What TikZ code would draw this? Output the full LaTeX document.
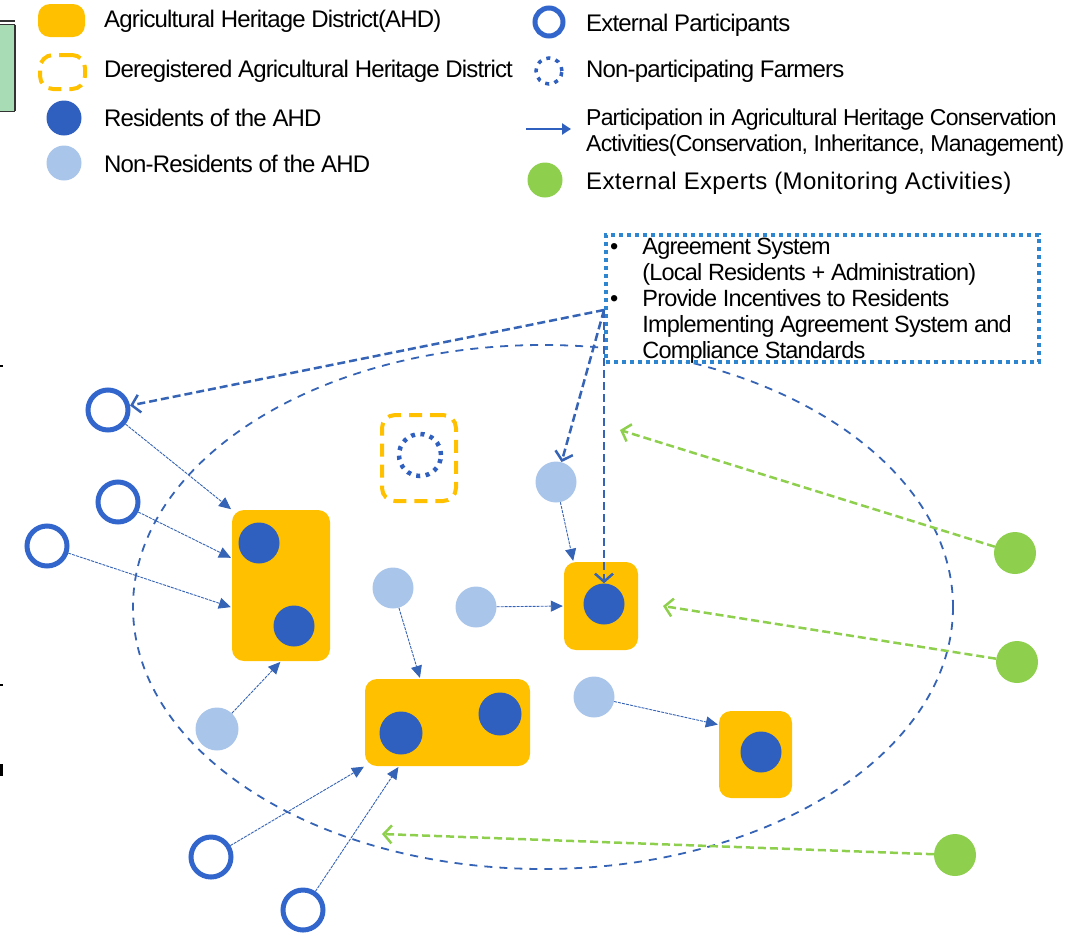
\documentclass[tikz,border=0pt]{standalone}
\usepackage{fontspec}
\setmainfont{Liberation Sans}
\newfontfamily\tightf{Liberation Sans}[LetterSpace=-3.5]
\newfontfamily\widef{Liberation Sans}[LetterSpace=1.5]
\usetikzlibrary{arrows.meta}
\definecolor{ahdy}{HTML}{FFC000}
\definecolor{resb}{HTML}{2F5FBF}
\definecolor{ringb}{HTML}{3366CC}
\definecolor{nonb}{HTML}{A9C5EA}
\definecolor{expg}{HTML}{8ED04E}
\definecolor{boxb}{HTML}{2E86D0}
\definecolor{dashb}{HTML}{3563B5}
\definecolor{fragg}{HTML}{A8DCB5}
\tikzset{
  ahd/.style={fill=ahdy, rounded corners=12pt, inner sep=0pt},
  dereg/.style={draw=ahdy, line width=4pt, dash pattern=on 13pt off 8pt, rounded corners=13pt, inner sep=0pt},
  resdot/.style={circle, fill=resb, minimum size=41pt, inner sep=0pt},
  nondot/.style={circle, fill=nonb, minimum size=41pt, inner sep=0pt},
  extring/.style={circle, draw=ringb, line width=5pt, minimum size=40pt, inner sep=0pt},
  expdot/.style={circle, fill=expg, minimum size=42pt, inner sep=0pt},
  nonpart/.style={circle, draw=resb, line width=4.5pt, dash pattern=on 4pt off 5.5pt, inner sep=0pt},
  part/.style={draw=dashb, line width=0.9pt, dash pattern=on 3pt off 1pt, -{Triangle[length=12pt,width=11pt]}, shorten >=1pt},
  agree/.style={draw=dashb, line width=2.5pt, dash pattern=on 8pt off 4pt, -{Straight Barb[length=8pt,width=18pt,line width=2.5pt]}},
  monit/.style={draw=expg, line width=2.5pt, dash pattern=on 8pt off 4pt, -{Straight Barb[length=8pt,width=18pt,line width=2.5pt]}},
  legtxt/.style={anchor=west, inner sep=0pt, font=\tightf\fontsize{24}{26}\selectfont},
}
\begin{document}
\begin{tikzpicture}[x=1pt,y=-1pt]
\useasboundingbox (0,0) rectangle (1081,935);
% fragments at the left edge
\fill[fragg] (0,24) rectangle (15,111);
\draw[line width=1.2pt, black!80] (0,21) -- (15,21) (0,24.5) -- (15,24.5) (15,24.5) -- (15,111) (0,111.5) -- (15,111.5);
\draw[line width=1.5pt] (0,366) -- (3,366) (0,685) -- (3,685);
\draw[line width=3pt] (1.5,764) -- (1.5,776);

% legend
\node[ahd, minimum width=47pt, minimum height=33pt] (LA) at (61.5,20.5) {};
\node[legtxt] (TA) at (104,21) {Agricultural Heritage District(AHD)};
\node[dereg, minimum width=45pt, minimum height=34pt] (LB) at (62.5,72) {};
\node[legtxt] (TB) at (104,71) {Deregistered Agricultural Heritage District};
\node[resdot, minimum size=35pt] (LC) at (64,118) {};
\node[legtxt] (TC) at (104,118) {Residents of the AHD};
\node[nondot, minimum size=35pt] (LD) at (64,163) {};
\node[legtxt] (TD) at (104,164) {Non-Residents of the AHD};

\node[extring, minimum size=28pt] (LE) at (549,22) {};
\node[legtxt] (TE) at (586,25) {External Participants};
\node[nonpart, line width=3.5pt, minimum size=26pt] (LF) at (549,71) {};
\node[legtxt] (TF) at (586,71) {Non-participating Farmers};
\coordinate (la1) at (526,129);
\coordinate (la2) at (571,129);
\draw[draw=resb, line width=2.5pt, -{Triangle[length=9pt,width=11pt]}] (la1) -- (la2);
\node[legtxt, align=left, font=\tightf\fontsize{23}{26}\selectfont] (TG) at (586,133) {Participation in Agricultural Heritage Conservation\\Activities(Conservation, Inheritance, Management)};
\node[expdot, minimum size=35pt] (LH) at (545,180) {};
\node[legtxt, font=\widef\fontsize{24}{26}\selectfont] (TH) at (586,183) {External Experts (Monitoring Activities)};

% big dashed region
\draw[dashb, line width=1.8pt, dash pattern=on 8pt off 7pt] (543,607) ellipse [x radius=410, y radius=262];

% agreement box
\node[draw=boxb, fill=white, line width=4pt, dash pattern=on 4pt off 4pt, minimum width=433pt, minimum height=127pt, inner sep=0pt] (T) at (822.5,298.5) {};
\node[anchor=north west, inner sep=0pt, font=\tightf\fontsize{23.5}{26}\selectfont, align=left] (TT) at (610,236)
 {\begin{tabular}{@{}l@{\hspace{24pt}}l@{}}
  \textbullet & Agreement System\\
  & (Local Residents + Administration)\\
  \textbullet & Provide Incentives to Residents\\
  & Implementing Agreement System and\\
  & Compliance Standards
 \end{tabular}};

% districts
\node[dereg, minimum width=74pt, minimum height=86pt] (DR) at (419,458) {};
\node[nonpart, minimum size=42pt] (NP) at (420,455) {};
\node[ahd, minimum width=98pt, minimum height=151pt] (A1) at (281,585.5) {};
\node[resdot] (D1) at (259,543) {};
\node[resdot] (D2) at (294,626) {};
\node[ahd, minimum width=165pt, minimum height=87pt] (M) at (447.5,722.5) {};
\node[resdot, minimum size=43pt] (D4) at (401,733) {};
\node[resdot, minimum size=43pt] (D5) at (500,714) {};
\node[ahd, minimum width=74pt, minimum height=88pt] (R1) at (601,606) {};
\node[resdot] (D3) at (604,604) {};
\node[ahd, minimum width=73pt, minimum height=87pt] (R2) at (755.5,754.5) {};
\node[resdot] (D6) at (761,752) {};

% non-residents
\node[nondot] (L1) at (556,482) {};
\node[nondot] (L2) at (393,588) {};
\node[nondot] (L3) at (476,607) {};
\node[nondot] (L4) at (594,697) {};
\node[nondot, minimum size=43pt] (L5) at (217,729) {};

% external participants
\node[extring] (E1) at (108,410) {};
\node[extring] (E2) at (118,502) {};
\node[extring] (E3) at (47,546) {};
\node[extring] (E4) at (211,857) {};
\node[extring] (E5) at (303,910) {};

% external experts
\node[expdot] (G1) at (1015,553) {};
\node[expdot] (G2) at (1017,662) {};
\node[expdot] (G3) at (955,855) {};

% participation arrows
\draw[part] (E1) -- (A1.north west);
\draw[part] (E2) -- (A1.151);
\draw[part] (E3) -- (A1.204);
\draw[part] (L5) -- (A1.south);
\draw[part] (E4) -- (M.south west);
\draw[part] (E5) -- (M.222);
\draw[part] (L2) -- (M.122);
\draw[part] (L3) -- (R1.west);
\draw[part] (L1) -- (R1.122);
\draw[part] (L4) -- (R2.141);

% agreement arrows
\coordinate (src) at (604,310);
\draw[agree] (src) -- (E1);
\draw[agree] (src) -- (L1);
\draw[agree] (src) -- (D3.north);

% monitoring arrows
\coordinate (g1t) at (620,430);
\coordinate (g2t) at (663,606);
\coordinate (g3t) at (382,834);
\draw[monit] (G1) -- (g1t);
\draw[monit] (G2) -- (g2t);
\draw[monit] (G3) -- (g3t);
\end{tikzpicture}
\end{document}
